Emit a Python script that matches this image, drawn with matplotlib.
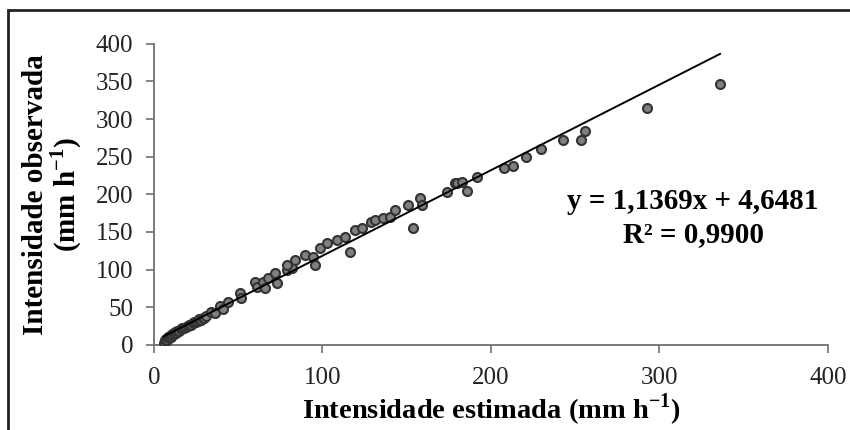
import matplotlib.pyplot as plt
from matplotlib.patches import Rectangle
import numpy as np

plt.rcParams['font.family'] = ['Liberation Serif', 'DejaVu Serif']
plt.rcParams['mathtext.fontset'] = 'custom'
plt.rcParams['mathtext.rm'] = 'Liberation Serif'
plt.rcParams['mathtext.bf'] = 'Liberation Serif:bold'

# estimated (x) vs observed (y) intensity, mm/h
est = [6, 6.5, 7, 7.5, 8, 8.5, 9, 9.5, 10, 10.5, 11, 12, 12.5, 13, 14, 15, 16, 17,
       18, 19, 20, 21, 22, 23, 24, 25, 26, 27, 28, 29, 30, 31, 34, 36, 39, 41, 44,
       51, 52, 60, 61, 64.7, 66, 67.6, 71.8, 73, 79, 82, 78.9, 83.7, 89.6, 94.4,
       95.5, 98.5, 102.7, 108.6, 113.4, 116.3, 119.3, 123.4, 129, 131, 136, 140,
       143, 150.7, 153.7, 158, 159, 174, 178.6, 180, 182.8, 185.8, 191.7, 207.7,
       213, 220.8, 230, 243, 253.4, 255.8, 292.6, 336]
obs = [3, 6, 5, 8, 7, 10, 9, 12, 11, 14, 13, 15, 17, 16, 18, 19, 21, 22,
       23, 24, 25, 27, 27, 29, 30, 31, 32, 34, 33, 36, 36, 38, 44, 42, 51, 47, 57,
       69, 62, 84, 77, 84, 76, 89, 95, 82, 100, 102, 106, 113, 120, 117,
       106, 129, 135, 140, 144, 123, 153, 155, 163, 166, 168, 170,
       179, 186, 155, 195, 186, 203, 215, 215, 217, 205, 223, 235,
       238, 250, 260, 272, 272, 284, 315, 347]

slope = 1.1369
intercept = 4.6481
r2 = 0.9900

fig = plt.figure(figsize=(8.5, 4.3), dpi=100)
ax = fig.add_axes([0.181, 0.198, 0.793, 0.700])

ax.scatter(est, obs, s=42, facecolor='#808080', edgecolor='#333333', linewidth=1.5, zorder=3)
xl = np.array([min(est), max(est)])
ax.plot(xl, slope * xl + intercept, color='black', lw=1.4, zorder=4)

ax.set_xlim(0, 400)
ax.set_ylim(0, 400)
ax.set_xticks([0, 100, 200, 300, 400])
ax.set_yticks(range(0, 401, 50))
for s in ['top', 'right']:
    ax.spines[s].set_visible(False)
for s in ['left', 'bottom']:
    ax.spines[s].set_color('#707070')
    ax.spines[s].set_linewidth(1.3)
ax.tick_params(axis='both', direction='out', length=6, width=1.2, color='#707070',
               labelsize=18, labelcolor='#222222')
ax.tick_params(axis='x', pad=10)
ax.tick_params(axis='y', pad=9)

ax.set_xlabel(r'Intensidade estimada (mm h$^{\mathbf{-1}}$)', fontsize=20.5,
              fontweight='bold', labelpad=2)
ax.set_ylabel('Intensidade observada\n' + r'(mm h$^{\mathbf{-1}}$)', fontsize=21,
              fontweight='bold', labelpad=8, linespacing=1.0)

eq = f'y = {slope:.4f}x + {intercept:.4f}'.replace('.', ',')
rt = f'R² = {r2:.4f}'.replace('.', ',')
ax.text(320, 169, eq + '\n' + rt, ha='center', va='center', fontsize=21,
        fontweight='bold', linespacing=1.3)

fig.patches.append(Rectangle((8 / 850, -0.1), 1.2, 1.1 - 10 / 430,
                             transform=fig.transFigure, fill=False,
                             edgecolor='#222222', lw=2))

fig.savefig('out.png', dpi=100)
